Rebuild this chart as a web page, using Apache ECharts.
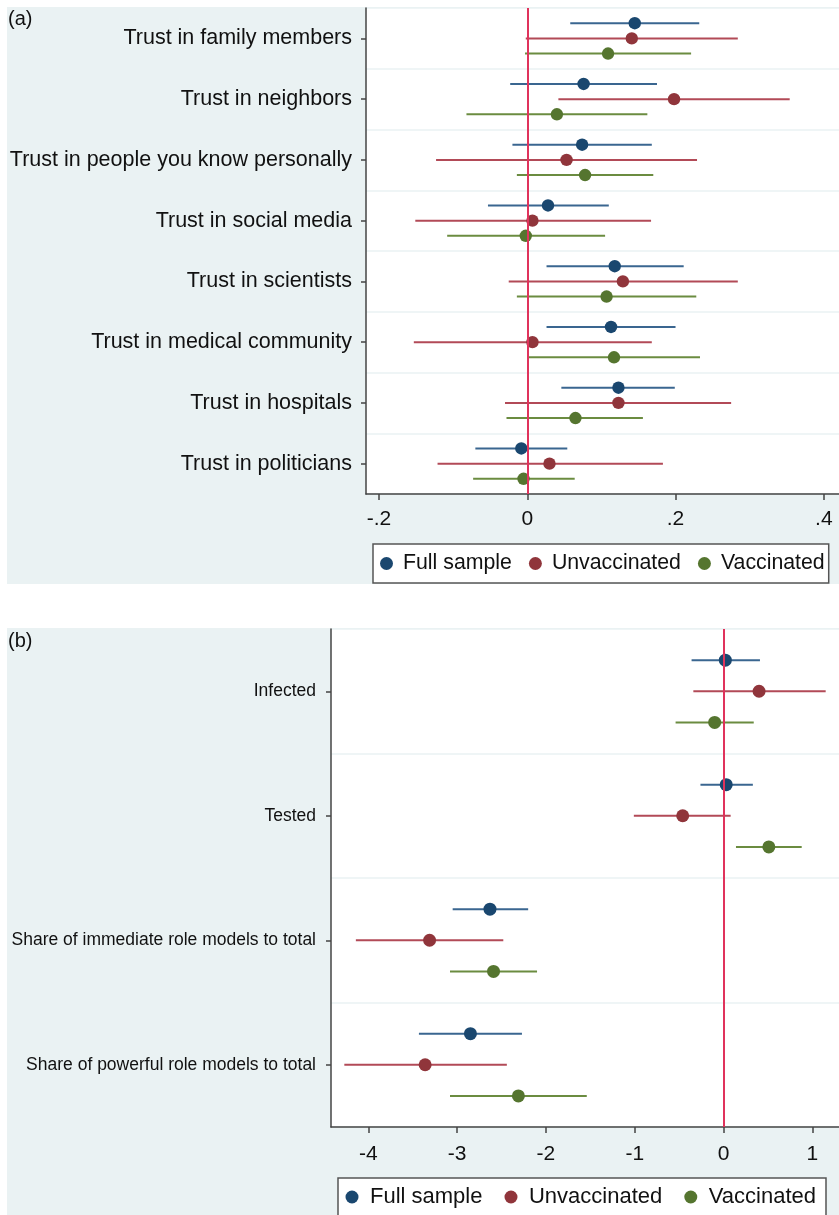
<!DOCTYPE html>
<html>
<head>
<meta charset="utf-8">
<script src="https://cdn.jsdelivr.net/npm/echarts@6/dist/echarts.min.js"></script>
<style>
  html, body { margin: 0; padding: 0; background: #fff; }
  #chart { width: 839px; height: 1215px; }
</style>
</head>
<body>
<div id="chart"></div>
<script>
// panel (a): trust outcomes
const catsA = ['Trust in family members', 'Trust in neighbors', 'Trust in people you know personally',
  'Trust in social media', 'Trust in scientists', 'Trust in medical community', 'Trust in hospitals', 'Trust in politicians']
const fullA_est = [0.145, 0.076, 0.074, 0.028, 0.118, 0.113, 0.123, -0.008]
const fullA_lo = [0.058, -0.023, -0.020, -0.053, 0.026, 0.026, 0.046, -0.070]
const fullA_hi = [0.232, 0.175, 0.168, 0.110, 0.211, 0.200, 0.199, 0.054]
const unvA_est = [0.141, 0.198, 0.053, 0.007, 0.129, 0.007, 0.123, 0.030]
const unvA_lo = [-0.002, 0.042, -0.123, -0.151, -0.025, -0.153, -0.030, -0.121]
const unvA_hi = [0.284, 0.354, 0.229, 0.167, 0.284, 0.168, 0.275, 0.183]
const vacA_est = [0.109, 0.040, 0.078, -0.002, 0.107, 0.117, 0.065, -0.005]
const vacA_lo = [-0.003, -0.082, -0.014, -0.108, -0.014, 0.000, -0.028, -0.073]
const vacA_hi = [0.221, 0.162, 0.170, 0.105, 0.228, 0.233, 0.156, 0.064]
const ticksA = [-0.2, 0, 0.2, 0.4]
const tickLabelsA = ['-.2', '0', '.2', '.4']

// panel (b): infection / role models
const catsB = ['Infected', 'Tested', 'Share of immediate role models to total', 'Share of powerful role models to total']
const fullB_est = [0.02, 0.03, -2.63, -2.85]
const fullB_lo = [-0.36, -0.26, -3.05, -3.43]
const fullB_hi = [0.41, 0.33, -2.20, -2.27]
const unvB_est = [0.40, -0.46, -3.31, -3.36]
const unvB_lo = [-0.34, -1.01, -4.14, -4.27]
const unvB_hi = [1.15, 0.08, -2.48, -2.44]
const vacB_est = [-0.10, 0.51, -2.59, -2.31]
const vacB_lo = [-0.54, 0.14, -3.08, -3.08]
const vacB_hi = [0.34, 0.88, -2.10, -1.54]
const ticksB = [-4, -3, -2, -1, 0, 1]
const tickLabelsB = ['-4', '-3', '-2', '-1', '0', '1']

const groupNames = ['Full sample', 'Unvaccinated', 'Vaccinated']
const dotColors = ['#1a476f', '#90353b', '#55752f']
const lineColors = ['#3a6690', '#b24a57', '#6b8c40']
const offsets = [-0.25, 0, 0.25] // position inside the category band

const FONT = '"Liberation Sans", Arial, sans-serif'
const BG = '#eaf2f3'

function ciSeries (k, gi, lo, est, hi, r) {
  return {
    type: 'custom',
    name: groupNames[k],
    xAxisIndex: gi,
    yAxisIndex: gi,
    itemStyle: { color: dotColors[k] },
    encode: { x: [0, 1, 2], y: 3 },
    data: est.map((v, i) => [lo[i], v, hi[i], i]),
    z: 3,
    renderItem: (params, api) => {
      const cat = api.value(3)
      const band = api.size([0, 1])[1]
      const p0 = api.coord([api.value(0), cat])
      const p1 = api.coord([api.value(1), cat])
      const p2 = api.coord([api.value(2), cat])
      const y = p1[1] + offsets[k] * band
      return {
        type: 'group',
        children: [
          { type: 'line', shape: { x1: p0[0], y1: y, x2: p2[0], y2: y }, style: { stroke: lineColors[k], lineWidth: 2 } },
          { type: 'circle', shape: { cx: p1[0], cy: y, r: r }, style: { fill: dotColors[k] } }
        ]
      }
    }
  }
}

function zeroLine (gi) {
  return {
    type: 'line', xAxisIndex: gi, yAxisIndex: gi, data: [], z: 2,
    markLine: {
      silent: true, symbol: 'none', label: { show: false },
      lineStyle: { color: '#e0335c', width: 2, type: 'solid' },
      data: [{ xAxis: 0 }]
    }
  }
}

function xAxisCfg (gi, min, max, ticks, labels, fontSize, margin) {
  return {
    type: 'value', gridIndex: gi, min: min, max: max,
    splitLine: { show: false },
    axisLine: { show: true, onZero: false, lineStyle: { color: '#444', width: 1.5 } },
    axisTick: { show: true, length: 6, lineStyle: { color: '#444', width: 1.5 }, customValues: ticks },
    axisLabel: {
      customValues: ticks, fontSize: fontSize, fontFamily: FONT, color: '#111', margin: margin,
      formatter: v => labels[ticks.findIndex(t => Math.abs(t - v) < 1e-9)]
    }
  }
}

function yAxisCfg (gi, cats, fontSize, margin) {
  return {
    type: 'category', gridIndex: gi, data: cats, inverse: true,
    axisLine: { show: true, onZero: false, lineStyle: { color: '#444', width: 1.5 } },
    axisTick: { show: true, alignWithLabel: true, length: 5, lineStyle: { color: '#444', width: 1.5 } },
    axisLabel: { fontSize: fontSize, fontFamily: FONT, color: '#111', margin: margin, interval: 0, padding: [3, 0, 0, 0] },
    splitLine: { show: true, lineStyle: { color: BG, width: 1.5 } }
  }
}

function legendCfg (left, top, width, fontSize, padding, textPad, gap) {
  return {
    left: left, top: top, width: width, orient: 'horizontal',
    data: groupNames, icon: 'circle', itemWidth: 13, itemHeight: 13, itemGap: gap,
    padding: padding, borderColor: '#555', borderWidth: 1.5, backgroundColor: '#fff',
    selectedMode: false,
    textStyle: { fontSize: fontSize, fontFamily: FONT, color: '#111', padding: [0, 0, 0, textPad] }
  }
}

const chart = echarts.init(document.getElementById('chart'))
chart.setOption({
  animation: false,
  backgroundColor: '#fff',
  graphic: [
    { type: 'rect', left: 7, top: 7, shape: { width: 832, height: 577 }, style: { fill: BG }, z: -10 },
    { type: 'rect', left: 7, top: 628, shape: { width: 832, height: 587 }, style: { fill: BG }, z: -10 },
    { type: 'text', left: 8, top: 9, style: { text: '(a)', fontSize: 20, fontFamily: FONT, fill: '#111' } },
    { type: 'text', left: 8, top: 631, style: { text: '(b)', fontSize: 20, fontFamily: FONT, fill: '#111' } }
  ],
  legend: [
    legendCfg(373, 544, 466, 21.3, [9, 4, 9, 7], 5, 17),
    legendCfg(338, 1178, 501, 22, [8, 10, 8, 7.5], 6.5, 22)
  ],
  grid: [
    { left: 366, top: 8, width: 473, height: 486, show: true, backgroundColor: '#fff', borderWidth: 0 },
    { left: 331, top: 629, width: 508, height: 498, show: true, backgroundColor: '#fff', borderWidth: 0 }
  ],
  xAxis: [
    xAxisCfg(0, -0.2175, 0.4205, ticksA, tickLabelsA, 21, 15),
    xAxisCfg(1, -4.42, 1.3, ticksB, tickLabelsB, 21, 17)
  ],
  yAxis: [
    yAxisCfg(0, catsA, 21.5, 14),
    yAxisCfg(1, catsB, 17.5, 15)
  ],
  series: [
    zeroLine(0),
    ciSeries(0, 0, fullA_lo, fullA_est, fullA_hi, 6.2),
    ciSeries(1, 0, unvA_lo, unvA_est, unvA_hi, 6.2),
    ciSeries(2, 0, vacA_lo, vacA_est, vacA_hi, 6.2),
    zeroLine(1),
    ciSeries(0, 1, fullB_lo, fullB_est, fullB_hi, 6.5),
    ciSeries(1, 1, unvB_lo, unvB_est, unvB_hi, 6.5),
    ciSeries(2, 1, vacB_lo, vacB_est, vacB_hi, 6.5)
  ]
})
</script>
</body>
</html>
